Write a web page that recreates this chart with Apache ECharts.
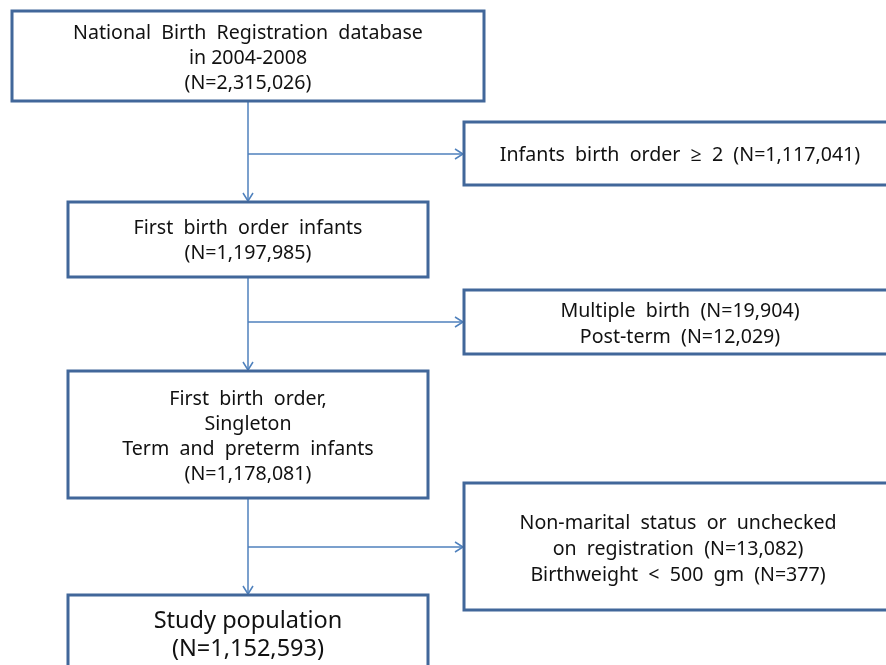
<!DOCTYPE html>
<html>
<head>
<meta charset="utf-8">
<script src="https://cdn.jsdelivr.net/npm/echarts@6/dist/echarts.min.js"></script>
<style>
  html, body { margin: 0; padding: 0; background: #fff; }
  #main { width: 886px; height: 665px; }
</style>
</head>
<body>
<div id="main"></div>
<script>
// flowchart text (data)
var mainSteps = [
  ['National  Birth  Registration  database', 'in 2004-2008', '(N=2,315,026)'],
  ['First  birth  order  infants', '(N=1,197,985)'],
  ['First  birth  order,', 'Singleton', 'Term  and  preterm  infants', '(N=1,178,081)'],
  ['Study population', '(N=1,152,593)']
];
var exclusions = [
  ['Infants  birth  order  \u2265  2  (N=1,117,041)'],
  ['Multiple  birth  (N=19,904)', 'Post-term  (N=12,029)'],
  ['Non-marital  status  or  unchecked', 'on  registration  (N=13,082)', 'Birthweight  <  500  gm  (N=377)']
];

// layout in page pixels: [x0, y0, x1, y1, textCenterY, fontSize, lineHeight]
var mainLayout = [
  [12, 11, 484, 101, 58, 19.6, 25],
  [68, 202, 428, 277, 241, 19.6, 25],
  [68, 371, 428, 498, 437, 19.6, 25],
  [68, 595, 428, 720, 635, 23.5, 28]
];
var exclLayout = [
  [464, 122, 900, 185, 155, 680],
  [464, 290, 900, 354, 324, 680],
  [464, 483, 900, 610, 549, 678]
];
var spineX = 248;
var branchY = [154, 322, 547];

var borderColor = '#41679a';
var arrowColor = '#4f81bd';
var fontFam = '"Noto Sans", "Open Sans", sans-serif';

function boxItem(api, b, lines, cx, cy, fs, lh) {
  var p0 = api.coord([b[0], b[1]]);
  var p1 = api.coord([b[2], b[3]]);
  var c = api.coord([cx, cy]);
  return {
    type: 'group',
    children: [
      {
        type: 'rect',
        shape: { x: p0[0], y: p0[1], width: p1[0] - p0[0], height: p1[1] - p0[1] },
        style: { fill: '#fff', stroke: borderColor, lineWidth: 3 }
      },
      {
        type: 'text',
        style: {
          text: lines.join('\n'),
          x: c[0], y: c[1],
          align: 'center', verticalAlign: 'middle',
          fontSize: fs, lineHeight: lh, fontFamily: fontFam,
          fill: '#111'
        }
      }
    ]
  };
}

function arrowItem(api, from, to, dir) {
  var a = api.coord(from);
  var b = api.coord(to);
  var h = 8, w = 5;
  var head;
  if (dir === 'down') {
    head = [[b[0] - w, b[1] - h], [b[0], b[1]], [b[0] + w, b[1] - h]];
  } else {
    head = [[b[0] - h, b[1] - w], [b[0], b[1]], [b[0] - h, b[1] + w]];
  }
  return {
    type: 'group',
    children: [
      { type: 'line', shape: { x1: a[0], y1: a[1], x2: b[0], y2: b[1] },
        style: { stroke: arrowColor, lineWidth: 1.5 } },
      { type: 'polyline', shape: { points: head },
        style: { stroke: arrowColor, lineWidth: 1.5, fill: null } }
    ]
  };
}

var arrowData = [];
for (var i = 0; i < mainSteps.length - 1; i++) {
  arrowData.push([i]);
}

var myChart = echarts.init(document.getElementById('main'));
var option = {
  animation: false,
  grid: { left: 0, right: 0, top: 0, bottom: 0 },
  xAxis: { type: 'value', min: 0, max: 886, show: false },
  yAxis: { type: 'value', min: 0, max: 665, inverse: true, show: false },
  series: [
    {
      type: 'custom',
      coordinateSystem: 'cartesian2d',
      clip: false,
      data: arrowData,
      renderItem: function (params, api) {
        var i = api.value(0);
        var top = mainLayout[i], next = mainLayout[i + 1];
        var g1 = arrowItem(api, [spineX, top[3]], [spineX, next[1] - 1], 'down');
        var g2 = arrowItem(api, [spineX, branchY[i]], [exclLayout[i][0] - 1, branchY[i]], 'right');
        return { type: 'group', children: [g1, g2] };
      }
    },
    {
      type: 'custom',
      coordinateSystem: 'cartesian2d',
      clip: false,
      data: mainSteps.map(function (s, i) { return [i]; }),
      renderItem: function (params, api) {
        var i = api.value(0);
        var b = mainLayout[i];
        return boxItem(api, b, mainSteps[i], (b[0] + b[2]) / 2, b[4], b[5], b[6]);
      }
    },
    {
      type: 'custom',
      coordinateSystem: 'cartesian2d',
      clip: false,
      data: exclusions.map(function (s, i) { return [i]; }),
      renderItem: function (params, api) {
        var i = api.value(0);
        var b = exclLayout[i];
        return boxItem(api, b, exclusions[i], b[5], b[4], 19.6, 26);
      }
    }
  ]
};
myChart.setOption(option);
</script>
</body>
</html>
